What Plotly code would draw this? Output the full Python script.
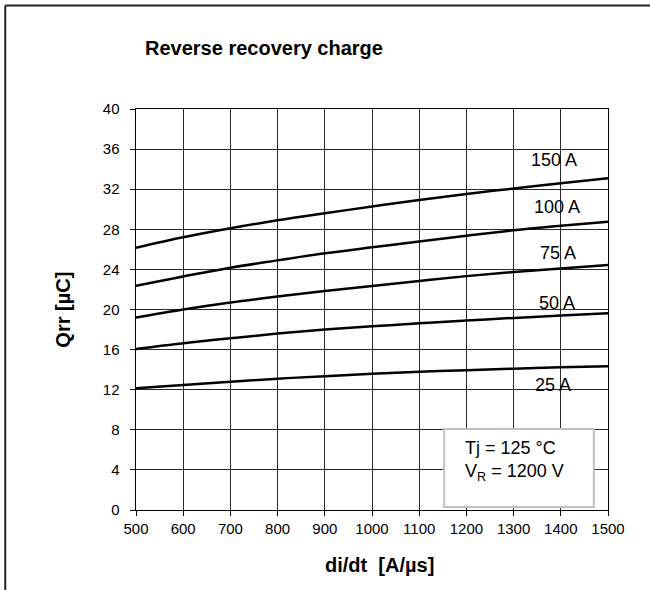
import plotly.graph_objects as go

# ---- data ----
di_dt = [500, 600, 700, 800, 900, 1000, 1100, 1200, 1300, 1400, 1500]
qrr_25A = [12.15, 12.47, 12.8, 13.1, 13.35, 13.58, 13.78, 13.95, 14.1, 14.23, 14.35]
qrr_50A = [16.05, 16.63, 17.13, 17.6, 18.0, 18.32, 18.62, 18.9, 19.16, 19.4, 19.62]
qrr_75A = [19.2, 20.0, 20.7, 21.3, 21.85, 22.35, 22.85, 23.33, 23.75, 24.1, 24.44]
qrr_100A = [22.37, 23.3, 24.17, 24.9, 25.6, 26.2, 26.78, 27.35, 27.9, 28.35, 28.76]
qrr_150A = [26.16, 27.2, 28.1, 28.9, 29.6, 30.27, 30.92, 31.52, 32.07, 32.59, 33.09]

series = [("25 A", qrr_25A), ("50 A", qrr_50A), ("75 A", qrr_75A),
          ("100 A", qrr_100A), ("150 A", qrr_150A)]
label_x = [1384, 1392, 1395, 1392, 1386]
label_y = [12.47, 20.68, 25.6, 30.2, 34.9]

x_ticks = [500, 600, 700, 800, 900, 1000, 1100, 1200, 1300, 1400, 1500]
y_ticks = [0, 4, 8, 12, 16, 20, 24, 28, 32, 36, 40]

FONT = "Liberation Sans, Arial, Helvetica, sans-serif"

W, H = 650, 590
L, R, T, B = 135.5, 608.5, 109, 510  # plot area in pixels
pw, ph = R - L, B - T

def px_x(px):
    return (px - L) / pw

def px_y(py):
    return (B - py) / ph

fig = go.Figure()
for name, vals in series:
    fig.add_trace(go.Scatter(x=di_dt, y=vals, mode="lines", name=name,
                             line=dict(color="black", width=2.5, shape="spline"),
                             showlegend=False, hoverinfo="x+y"))

annotations = []
for (name, _), lx, ly in zip(series, label_x, label_y):
    annotations.append(dict(x=lx, y=ly, xref="x", yref="y", text=name,
                            showarrow=False, font=dict(family=FONT, size=18, color="black"),
                            xanchor="center", yanchor="middle"))

# condition box text
annotations.append(dict(x=1193, y=4.9, xref="x", yref="y",
                        text="Tj = 125 °C<br>V<sub>R</sub> = 1200 V",
                        showarrow=False, align="left", xanchor="left", yanchor="middle",
                        font=dict(family=FONT, size=18, color="black")))

# axis titles
annotations.append(dict(x=px_x(379.5), y=px_y(565), xref="paper", yref="paper",
                        text="<b>di/dt  [A/µs]</b>", showarrow=False,
                        xanchor="center", yanchor="middle",
                        font=dict(family=FONT, size=20, color="black")))
annotations.append(dict(x=px_x(62), y=px_y(310), xref="paper", yref="paper",
                        text="<b>Qrr [µC]</b>", showarrow=False, textangle=-90,
                        xanchor="center", yanchor="middle",
                        font=dict(family=FONT, size=20, color="black")))

shapes = [
    # condition box
    dict(type="rect", xref="x", yref="y", x0=1153, x1=1470, y0=0.3, y1=8.08,
         fillcolor="white", line=dict(color="#c0c0c0", width=2), layer="above"),
    # outer frame (top + left)
    dict(type="line", xref="paper", yref="paper", x0=px_x(4.5), x1=px_x(652),
         y0=px_y(5.5), y1=px_y(5.5), line=dict(color="#222", width=2)),
    dict(type="line", xref="paper", yref="paper", x0=px_x(4.5), x1=px_x(4.5),
         y0=px_y(5.5), y1=px_y(592), line=dict(color="#222", width=2)),
]

fig.update_layout(
    width=W, height=H, autosize=False,
    margin=dict(l=L, r=W - R, t=T, b=H - B, pad=0),
    paper_bgcolor="white", plot_bgcolor="white",
    font=dict(family=FONT, color="black"),
    title=dict(text="<b>Reverse recovery charge</b>", x=264 / W, xref="container",
               y=1 - 48 / H, yref="container", xanchor="center", yanchor="middle",
               font=dict(family=FONT, size=20, color="black")),
    annotations=annotations, shapes=shapes,
    xaxis=dict(range=[500, 1500], tickvals=x_ticks, ticktext=[str(v) for v in x_ticks],
               showgrid=True, gridcolor="#2a2a2a", gridwidth=1,
               showline=True, linecolor="black", linewidth=1, mirror=True,
               ticks="outside", ticklen=5, tickcolor="black", tickwidth=1,
               tickfont=dict(family=FONT, size=15, color="black"),
               zeroline=False, fixedrange=True),
    yaxis=dict(range=[0, 40], tickvals=y_ticks, ticktext=[f"{v}\u2002" for v in y_ticks],
               showgrid=True, gridcolor="#2a2a2a", gridwidth=1,
               showline=True, linecolor="black", linewidth=1, mirror=True,
               ticks="outside", ticklen=5, tickcolor="black", tickwidth=1,
               tickfont=dict(family=FONT, size=15, color="black"),
               zeroline=False, fixedrange=True),
)

fig.write_html("out.html", config={"displayModeBar": False},
               post_script="document.body.style.margin='0';document.body.style.overflow='hidden';")
